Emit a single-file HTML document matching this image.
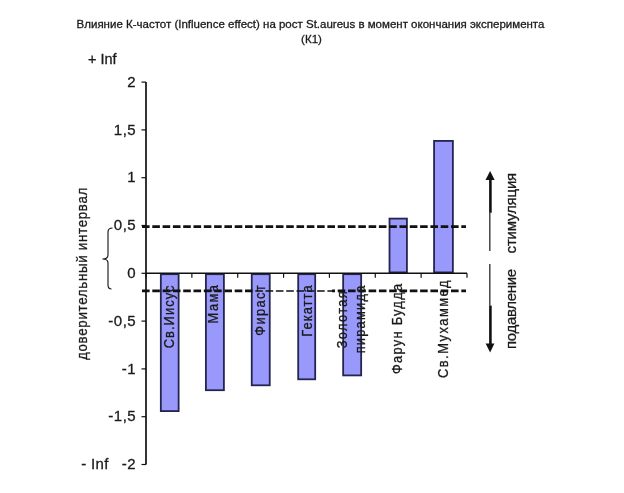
<!DOCTYPE html>
<html><head><meta charset="utf-8"><style>
html,body{margin:0;padding:0;background:#fff;width:624px;height:493px;overflow:hidden}
svg{position:absolute;left:0;top:0;will-change:transform}
text{font-family:"Liberation Sans",sans-serif;fill:#1a1a1a;stroke:#1a1a1a;stroke-width:0.3px}
</style></head><body>
<svg width="624" height="493" viewBox="0 0 624 493">
<rect x="160.83" y="274.20" width="17.80" height="136.90" fill="#9999fb" stroke="#242450" stroke-width="1.8"/>
<rect x="205.89" y="274.20" width="18.00" height="116.00" fill="#9999fb" stroke="#242450" stroke-width="1.8"/>
<rect x="251.74" y="274.20" width="18.00" height="111.10" fill="#9999fb" stroke="#242450" stroke-width="1.8"/>
<rect x="298.20" y="274.20" width="17.00" height="105.10" fill="#9999fb" stroke="#242450" stroke-width="1.8"/>
<rect x="343.16" y="274.20" width="18.00" height="101.20" fill="#9999fb" stroke="#242450" stroke-width="1.8"/>
<rect x="389.51" y="218.60" width="17.40" height="53.80" fill="#9999fb" stroke="#242450" stroke-width="1.8"/>
<rect x="434.07" y="140.90" width="18.80" height="131.50" fill="#9999fb" stroke="#242450" stroke-width="1.8"/>
<line x1="146" y1="82.10" x2="146" y2="464.50" stroke="#000" stroke-width="1.6"/>
<line x1="141.5" y1="82.10" x2="146" y2="82.10" stroke="#111" stroke-width="1.2"/>
<line x1="141.5" y1="129.90" x2="146" y2="129.90" stroke="#111" stroke-width="1.2"/>
<line x1="141.5" y1="177.70" x2="146" y2="177.70" stroke="#111" stroke-width="1.2"/>
<line x1="141.5" y1="225.50" x2="146" y2="225.50" stroke="#111" stroke-width="1.2"/>
<line x1="141.5" y1="273.30" x2="146" y2="273.30" stroke="#111" stroke-width="1.2"/>
<line x1="141.5" y1="321.10" x2="146" y2="321.10" stroke="#111" stroke-width="1.2"/>
<line x1="141.5" y1="368.90" x2="146" y2="368.90" stroke="#111" stroke-width="1.2"/>
<line x1="141.5" y1="416.70" x2="146" y2="416.70" stroke="#111" stroke-width="1.2"/>
<line x1="141.5" y1="464.50" x2="146" y2="464.50" stroke="#111" stroke-width="1.2"/>
<line x1="146" y1="273.3" x2="467" y2="273.3" stroke="#111" stroke-width="1.4"/>
<line x1="146.00" y1="273.3" x2="146.00" y2="277.8" stroke="#111" stroke-width="1.2"/>
<line x1="191.86" y1="273.3" x2="191.86" y2="277.8" stroke="#111" stroke-width="1.2"/>
<line x1="237.71" y1="273.3" x2="237.71" y2="277.8" stroke="#111" stroke-width="1.2"/>
<line x1="283.57" y1="273.3" x2="283.57" y2="277.8" stroke="#111" stroke-width="1.2"/>
<line x1="329.43" y1="273.3" x2="329.43" y2="277.8" stroke="#111" stroke-width="1.2"/>
<line x1="375.29" y1="273.3" x2="375.29" y2="277.8" stroke="#111" stroke-width="1.2"/>
<line x1="421.14" y1="273.3" x2="421.14" y2="277.8" stroke="#111" stroke-width="1.2"/>
<line x1="467.00" y1="273.3" x2="467.00" y2="277.8" stroke="#111" stroke-width="1.2"/>
<defs><clipPath id="c1"><rect x="0" y="0" width="254" height="493"/><rect x="332" y="0" width="300" height="493"/></clipPath><clipPath id="c2"><rect x="254" y="0" width="78" height="493"/></clipPath></defs>
<line x1="142" y1="226.6" x2="466" y2="226.6" stroke="#111" stroke-width="2.6" stroke-dasharray="7.6 2.7"/>
<line x1="142" y1="290.9" x2="466" y2="290.9" stroke="#111" stroke-width="2.6" stroke-dasharray="7.6 2.7" clip-path="url(#c1)"/>
<line x1="142" y1="290.9" x2="466" y2="290.9" stroke="#111" stroke-width="1.5" stroke-dasharray="7.6 2.7" clip-path="url(#c2)"/>
<text x="136.2" y="86.70" text-anchor="end" font-size="15" letter-spacing="0.5">2</text>
<text x="136.2" y="134.50" text-anchor="end" font-size="15" letter-spacing="0.5">1,5</text>
<text x="136.2" y="182.30" text-anchor="end" font-size="15" letter-spacing="0.5">1</text>
<text x="136.2" y="230.10" text-anchor="end" font-size="15" letter-spacing="0.5">0,5</text>
<text x="136.2" y="277.90" text-anchor="end" font-size="15" letter-spacing="0.5">0</text>
<text x="136.2" y="325.70" text-anchor="end" font-size="15" letter-spacing="0.5">-0,5</text>
<text x="136.2" y="373.50" text-anchor="end" font-size="15" letter-spacing="0.5">-1</text>
<text x="136.2" y="421.30" text-anchor="end" font-size="15" letter-spacing="0.5">-1,5</text>
<text x="136.2" y="469.10" text-anchor="end" font-size="15" letter-spacing="0.5">-2</text>
<text transform="translate(173.6,348.3) rotate(-90) scale(0.88,1)" font-size="14.6" textLength="71.36" lengthAdjust="spacing">Св.Иисус</text>
<text transform="translate(217.6,323.4) rotate(-90) scale(0.88,1)" font-size="14.6" textLength="43.64" lengthAdjust="spacing">Мама</text>
<text transform="translate(264.8,335.7) rotate(-90) scale(0.88,1)" font-size="14.6" textLength="57.16" lengthAdjust="spacing">Фираст</text>
<text transform="translate(312.0,336.8) rotate(-90) scale(0.88,1)" font-size="14.6" textLength="58.41" lengthAdjust="spacing">Гекатта</text>
<text transform="translate(346.6,348.3) rotate(-90) scale(0.88,1)" font-size="14.6" textLength="64.77" lengthAdjust="spacing">Золотая</text>
<text transform="translate(364.9,353.3) rotate(-90) scale(0.88,1)" font-size="14.6" textLength="76.82" lengthAdjust="spacing">пирамида</text>
<text transform="translate(402.2,374.1) rotate(-90) scale(0.88,1)" font-size="14.6" textLength="102.50" lengthAdjust="spacing">Фарун Будда</text>
<text transform="translate(448.2,378.0) rotate(-90) scale(0.88,1)" font-size="14.6" textLength="110.80" lengthAdjust="spacing">Св.Мухаммед</text>
<text x="310.5" y="28" text-anchor="middle" font-size="11.5" style="stroke-width:0.3px">Влияние К-частот (Influence effect) на рост St.aureus в момент окончания эксперимента</text>
<text x="311.5" y="43" text-anchor="middle" font-size="11.5" style="stroke-width:0.3px">(К1)</text>
<text x="88" y="64" font-size="14.5">+ Inf</text>
<text x="81.2" y="469.2" font-size="15" textLength="27.3" lengthAdjust="spacing">- Inf</text>
<text transform="translate(86.7,360) rotate(-90) scale(0.9,1)" font-size="14.8" textLength="191.5" lengthAdjust="spacing">доверительный интервал</text>
<path d="M112.5,228 Q108,228 108,232 L108,255 Q108,259 102.5,259 Q108,259 108,263 L108,285 Q108,289 111.5,289" fill="none" stroke="#111" stroke-width="1.1"/>
<line x1="489.8" y1="212.8" x2="489.8" y2="251" stroke="#3a3a3a" stroke-width="1.4"/>
<line x1="490.4" y1="178" x2="490.4" y2="212.8" stroke="#111" stroke-width="2.6"/>
<path d="M490.1,171 L494.6,180 L485.5,180 Z" fill="#111"/>
<line x1="489.8" y1="264.1" x2="489.8" y2="305.5" stroke="#3a3a3a" stroke-width="1.4"/>
<line x1="490.4" y1="305.5" x2="490.4" y2="346" stroke="#111" stroke-width="2.6"/>
<path d="M490.1,352.5 L494.4,343.6 L485.6,343.6 Z" fill="#111"/>
<text transform="translate(516.4,253.4) rotate(-90)" font-size="15" textLength="80.6" lengthAdjust="spacing">стимуляция</text>
<text transform="translate(516.4,349.1) rotate(-90)" font-size="15" textLength="80.3" lengthAdjust="spacing">подавление</text>
</svg></body></html>
